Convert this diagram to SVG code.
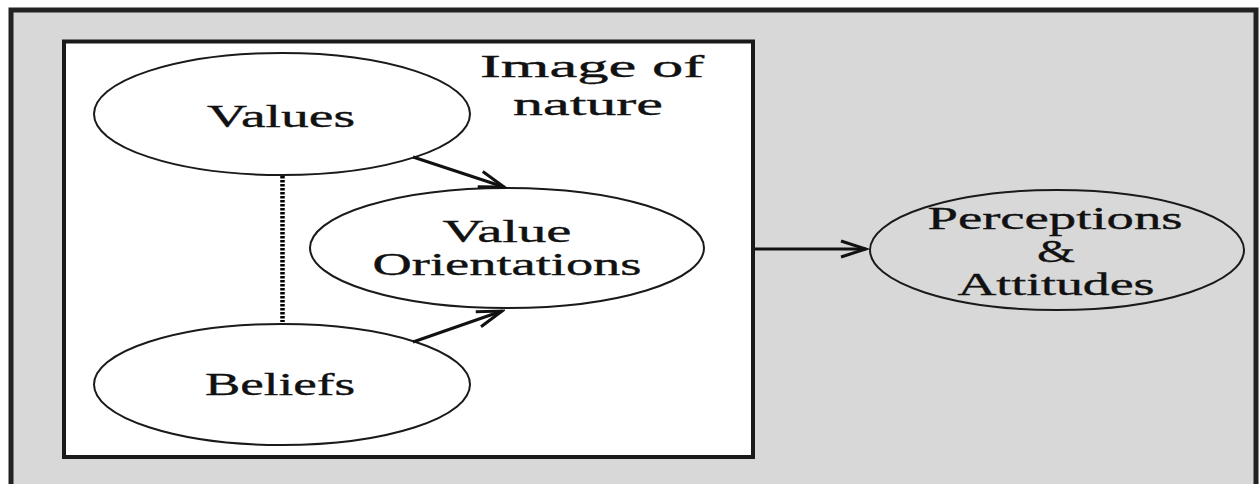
<svg xmlns="http://www.w3.org/2000/svg" width="1259" height="484" viewBox="0 0 1259 484">
  <defs>
    <style>
      .node { fill: #ffffff; stroke: #1a1a1a; stroke-width: 2; }
      .node-gray { fill: none; stroke: #1a1a1a; stroke-width: 2; }
      .lbl { font-family: "Liberation Serif", "Times New Roman", serif; font-size: 31px; fill: #111; text-anchor: middle; stroke: #111; stroke-width: 0.35; }
      .conn { stroke: #111; stroke-width: 3; fill: none; marker-end: url(#arrow); }
      .dots { stroke: #000; stroke-width: 4.5; stroke-dasharray: 2.5 1.5; fill: none; }
    </style>
    <marker id="arrow" markerUnits="userSpaceOnUse" markerWidth="30" markerHeight="20" viewBox="-27 -10 30 20" refX="0" refY="0" orient="auto">
      <path d="M-25,-8 L0,0 L-25,8" fill="none" stroke="#111" stroke-width="3" stroke-linejoin="miter"/>
    </marker>
  </defs>
  <rect x="0" y="0" width="1259" height="484" fill="#ffffff"/>
  <g id="frame">
    <rect x="11" y="10" width="1245" height="490" fill="#d8d8d8" stroke="#222" stroke-width="5"/>
  </g>
  <g id="image-of-nature">
    <rect x="64" y="41.5" width="689" height="415.5" fill="#ffffff" stroke="#1a1a1a" stroke-width="4"/>
    <text class="lbl" x="592" y="77" font-size="33" textLength="224" lengthAdjust="spacingAndGlyphs">Image of</text>
    <text class="lbl" x="588" y="115" font-size="33" textLength="150" lengthAdjust="spacingAndGlyphs">nature</text>
  </g>
  <g id="values">
    <ellipse class="node" cx="282" cy="114" rx="188" ry="61"/>
    <text class="lbl" x="281" y="127" textLength="148" lengthAdjust="spacingAndGlyphs">Values</text>
  </g>
  <g id="value-orientations">
    <ellipse class="node" cx="507" cy="248" rx="197" ry="60"/>
    <text class="lbl" x="507" y="242" textLength="129" lengthAdjust="spacingAndGlyphs">Value</text>
    <text class="lbl" x="507" y="275" textLength="269" lengthAdjust="spacingAndGlyphs">Orientations</text>
  </g>
  <g id="beliefs">
    <ellipse class="node" cx="282" cy="384.5" rx="188" ry="60.5"/>
    <text class="lbl" x="280" y="395" textLength="150" lengthAdjust="spacingAndGlyphs">Beliefs</text>
  </g>
  <g id="perceptions-attitudes">
    <ellipse class="node-gray" cx="1057" cy="250" rx="187" ry="60"/>
    <text class="lbl" x="1055" y="229" textLength="255" lengthAdjust="spacingAndGlyphs">Perceptions</text>
    <text class="lbl" x="1056" y="262" textLength="38" lengthAdjust="spacingAndGlyphs">&amp;</text>
    <text class="lbl" x="1056" y="295" textLength="197" lengthAdjust="spacingAndGlyphs">Attitudes</text>
  </g>
  <g id="connectors">
    <line class="dots" x1="282.5" y1="176" x2="282.5" y2="322"/>
    <line class="conn" x1="413" y1="157" x2="504" y2="187"/>
    <line class="conn" x1="413" y1="342" x2="502" y2="311"/>
    <line class="conn" x1="755" y1="249" x2="866" y2="249"/>
  </g>
</svg>
